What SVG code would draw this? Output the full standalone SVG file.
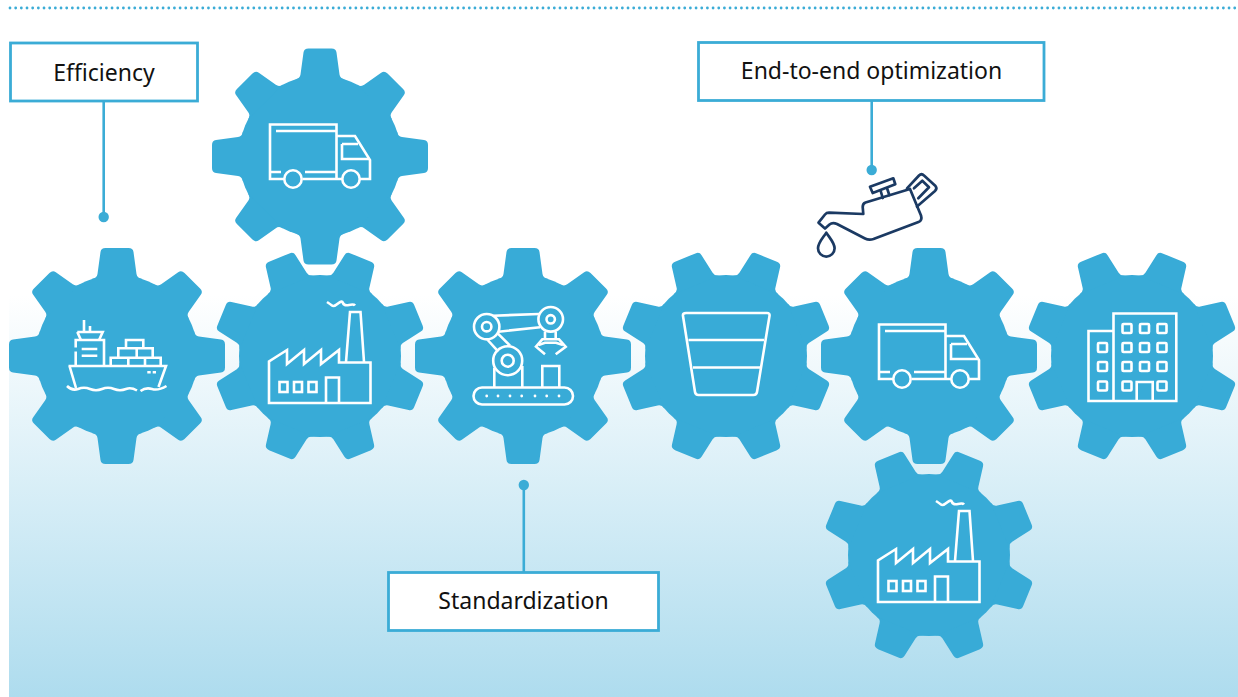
<svg xmlns="http://www.w3.org/2000/svg" xmlns:xlink="http://www.w3.org/1999/xlink" width="1238" height="697" viewBox="0 0 1238 697">
<style>
.gear{fill:#38abd7}
.ic{fill:none;stroke:#fff;stroke-width:2.6;stroke-linejoin:miter}
.oil{fill:none;stroke:#1b3a63;stroke-width:2.7;stroke-linejoin:round;stroke-linecap:round}
.box{fill:#fff;stroke:#3bacd6;stroke-width:2.8}
.conn{fill:none;stroke:#3bacd6;stroke-width:2.6}
.dot{fill:#3bacd6}
.lbl{font-family:"Noto Sans","Open Sans",sans-serif;font-size:23px;fill:#111;text-anchor:middle}
</style>
<defs>
<linearGradient id="bg" x1="0" y1="0" x2="0" y2="1">
<stop offset="0" stop-color="#fff"/>
<stop offset="1" stop-color="#aedcee"/>
</linearGradient>
<path id="tooth" d="M-25-77Q-20-78-19.5-82L-16.500-104Q-16-108-11.500-108H11.500Q16-108 16.500-104L19.500-82Q20-78 25-77Z"/>
<path id="tooth2" d="M-25-77Q-20-78-19.500-82L-16-102.500Q-15.500-106.500-11-106.500H11Q15.500-106.500 16-102.500L19.500-82Q20-78 25-77Z"/>
<g id="gearA" class="gear">
<circle r="81"/>
<use xlink:href="#tooth"/>
<use xlink:href="#tooth2" transform="rotate(45)"/>
<use xlink:href="#tooth" transform="rotate(90)"/>
<use xlink:href="#tooth2" transform="rotate(135)"/>
<use xlink:href="#tooth" transform="rotate(180)"/>
<use xlink:href="#tooth2" transform="rotate(225)"/>
<use xlink:href="#tooth" transform="rotate(270)"/>
<use xlink:href="#tooth2" transform="rotate(315)"/>
</g>
<g id="gearB" class="gear">
<circle r="81"/>
<use xlink:href="#tooth2" transform="rotate(22.500)"/>
<use xlink:href="#tooth2" transform="rotate(67.500)"/>
<use xlink:href="#tooth2" transform="rotate(112.500)"/>
<use xlink:href="#tooth2" transform="rotate(157.500)"/>
<use xlink:href="#tooth2" transform="rotate(202.500)"/>
<use xlink:href="#tooth2" transform="rotate(247.500)"/>
<use xlink:href="#tooth2" transform="rotate(292.500)"/>
<use xlink:href="#tooth2" transform="rotate(337.500)"/>
</g>
<g id="truck" class="ic">
<path d="M336.500 179V124.500H270V179H284.500M303 179H342M360 179H370V160L355 136H336.500"/>
<path d="M276 131H336M271 172H281M305 172H336"/>
<path d="M342 144V159H369M342 144H358"/>
<circle cx="293" cy="179" r="8.700"/>
<circle cx="351" cy="179" r="8.700"/>
</g>
<g id="factory" class="ic">
<path d="M269 403V361.500L287 350V364L304 350V364L321 350V364L339 350V362.500H370.500V403Z"/>
<path d="M346 362L350 312H360.500L364 362"/>
<path d="M326 403V377.500H339V403"/>
<rect x="279.500" y="382" width="8" height="10"/>
<rect x="294" y="382" width="8" height="10"/>
<rect x="308.500" y="382" width="8" height="10"/>
<path d="M327 302Q330 304 332 305.500T338 303.500T343 303T349 305T355 305.500"/>
</g>
</defs>
<rect x="9" y="295" width="1229" height="402" fill="url(#bg)"/>
<path d="M10 8H1238" fill="none" stroke="#3bacd6" stroke-width="2.800" stroke-linecap="round" stroke-dasharray="0 5.670"/>

<g id="connectors">
<path class="conn" d="M103.700 101V217"/>
<circle class="dot" cx="103.700" cy="217" r="5.200"/>
<path class="conn" d="M871.700 100V170"/>
<circle class="dot" cx="871.700" cy="170" r="5.200"/>
<path class="conn" d="M523.800 572V485"/>
<circle class="dot" cx="523.800" cy="485" r="5.200"/>
</g>

<g id="box-efficiency"><rect class="box" x="10.500" y="43" width="187" height="58"/><text class="lbl" x="104" y="81">Efficiency</text></g>
<g id="box-end-to-end"><rect class="box" x="698.500" y="42.500" width="345.500" height="58"/><text class="lbl" x="871.500" y="79">End-to-end optimization</text></g>
<g id="box-standardization"><rect class="box" x="388.500" y="572.500" width="270" height="58"/><text class="lbl" x="523.500" y="609">Standardization</text></g>

<g id="gear-truck-top"><use xlink:href="#gearA" x="320" y="156.500"/><use xlink:href="#truck"/></g>
<g id="gear-ship"><use xlink:href="#gearA" x="117" y="356"/>
<g class="ic">
<path d="M68.500 366H166L158.500 387M69.500 366L76 388"/>
<path d="M67 386Q72 391 78 389Q84 386.500 90 389Q96 391.500 102 389Q108 386.500 114 389Q120 391.500 126 389Q131 387 137 390.500M140.500 391Q146 387 152 389Q158 391 166.500 386"/>
<path d="M75.700 347.500V340H104V366M75.700 351.500V366"/>
<path d="M77.300 332H102.700L99.300 339.500M77.300 332L80.700 339.500"/>
<path d="M84 320V332M90 326V332"/>
<path d="M81.700 349H97.300M81.700 355.700H97.300"/>
<path d="M110.700 366V357.700H160.700V366M128.300 357.700V366M145 357.700V366"/>
<path d="M118.300 357.700V348.300H152.700V357.700M136.700 348.300V357.700"/>
<path d="M126 348.300V340H143.300V348.300"/>
<path d="M147.300 372.300H150.700M152.700 372.300H156"/>
</g></g>
<g id="gear-factory"><use xlink:href="#gearB" x="320" y="356"/><use xlink:href="#factory"/></g>
<g id="gear-robot"><use xlink:href="#gearA" x="523" y="356"/>
<g class="ic">
<rect x="473.500" y="387.500" width="99.500" height="17" rx="8.500"/>
<path d="M494.300 368V387M522.300 366V387M542.300 387V366H559.300V387"/>
<circle cx="507.700" cy="360.700" r="14.500"/><circle cx="507.700" cy="360.700" r="6"/>
<circle cx="486.700" cy="326.700" r="12.700"/><circle cx="486.700" cy="326.700" r="4.700"/>
<circle cx="550.700" cy="319.300" r="12.300"/><circle cx="550.700" cy="319.300" r="4.200"/>
<path d="M493.300 315.700L539 314M498.300 331.700L540 327.300"/>
<path d="M487.700 340L498.300 351.700M497.700 333.300L510 345.700"/>
<path d="M545 331.500V339.300M555.700 331.500V339.300M545 354.300L536 346.700L542.300 339.300H559L565.700 346.700L555.700 354.300"/>
<path d="M538.500 345L545 342.700H556L563 345"/>
</g>
<g fill="#fff"><circle cx="486.700" cy="396" r="1.400"/><circle cx="498" cy="396" r="1.400"/><circle cx="510" cy="396" r="1.400"/><circle cx="521.700" cy="396" r="1.400"/><circle cx="535" cy="396" r="1.400"/><circle cx="546.700" cy="396" r="1.400"/><circle cx="559" cy="396" r="1.400"/></g></g>
<g id="gear-funnel"><use xlink:href="#gearB" x="726" y="356"/>
<g class="ic" stroke-linejoin="round">
<path d="M686 313H767Q770 313 769.500 316L757 392Q756.500 395 753.500 395H698.500Q695.500 395 695 392L683 316Q682.500 313 686 313Z"/>
<path d="M688.500 340H764M693 367.500H760"/>
</g></g>
<g id="gear-truck-mid"><use xlink:href="#gearA" x="929" y="356"/><use xlink:href="#truck" transform="translate(609 200)"/></g>
<g id="gear-building"><use xlink:href="#gearB" x="1132" y="356"/>
<g class="ic">
<path d="M1113.500 401V313.500H1176.300V401H1088.500V331H1113.500"/>
<path d="M1136.700 401V382H1152.700V401"/>
<g id="win">
<rect x="1122.500" y="324" width="9" height="9" rx="1"/><rect x="1140" y="324" width="9" height="9" rx="1"/><rect x="1157.500" y="324" width="9" height="9" rx="1"/>
<rect x="1122.500" y="343" width="9" height="9" rx="1"/><rect x="1140" y="343" width="9" height="9" rx="1"/><rect x="1157.500" y="343" width="9" height="9" rx="1"/>
<rect x="1122.500" y="362" width="9" height="9" rx="1"/><rect x="1140" y="362" width="9" height="9" rx="1"/><rect x="1157.500" y="362" width="9" height="9" rx="1"/>
<rect x="1122.500" y="381.500" width="9" height="9" rx="1"/><rect x="1157.500" y="381.500" width="9" height="9" rx="1"/>
<rect x="1098" y="343" width="9" height="9" rx="1"/><rect x="1098" y="362" width="9" height="9" rx="1"/><rect x="1098" y="381.500" width="9" height="9" rx="1"/>
</g>
</g></g>
<g id="gear-factory-low"><use xlink:href="#gearB" x="929" y="555"/><use xlink:href="#factory" transform="translate(609 199)"/></g>
<g id="oil-can" class="oil">
<path d="M818.500 222.700L825 214.500Q826.500 212.700 829 212.700L863.300 214L862.700 207Q862.700 203.500 865.500 202.500L910 189L921 215.500Q922.500 220.500 918.500 222L873.500 239Q869 240.500 865 238.500L837 224Q832.500 222 829.500 224.500L825 228.500Z"/>
<path d="M870 186.700L893.300 178.300L895.300 184.300L872.700 193Z"/>
<path d="M880.700 191L882.700 198M887.300 189L889.300 195"/>
<path d="M907 188.300L919 175.500Q921.500 173 924 175.500L935.500 186Q937.500 188.500 935 191L917 206.500"/>
<path d="M914 188.300L922.300 180.700L929 187.300L918.300 198.300"/>
<path d="M826.300 232.700C822 239 818 243 818 248.300A8.300 8.300 0 0 0 834.600 248.300C834.600 243 830.500 239 826.300 232.700Z"/>
</g>
</svg>
